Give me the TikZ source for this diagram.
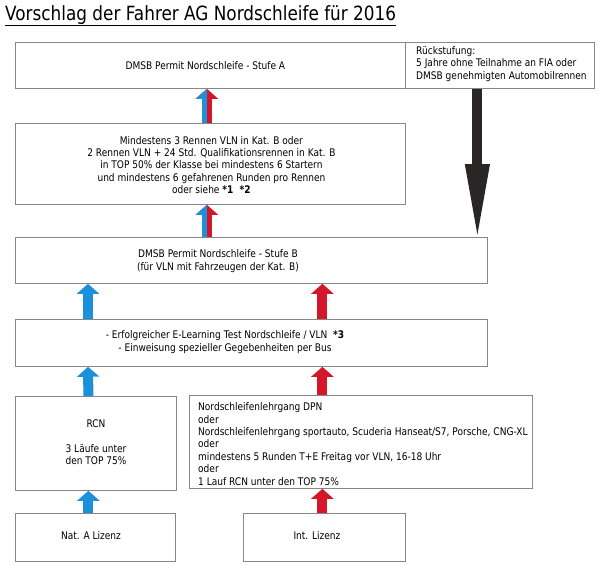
\documentclass[tikz,border=0pt]{standalone}
\usepackage{fontspec}
\setmainfont[FakeStretch=0.86]{DejaVu Sans}
\usetikzlibrary{calc,arrows.meta}
\definecolor{arrblue}{RGB}{28,144,218}
\definecolor{arrred}{RGB}{212,22,42}
\definecolor{arrblack}{RGB}{42,38,38}
\definecolor{boxline}{RGB}{135,135,135}
\begin{document}
\begin{tikzpicture}[x=1pt,y=-1pt,
  box/.style={draw=boxline, line width=0.8pt, inner sep=0pt, anchor=north west},
  txt/.style={font=\fontsize{10.5}{12.4}\selectfont, inner sep=0pt},
  upblue/.style={draw=arrblue, line width=10pt, -{Triangle[width=22pt,length=10pt]}},
  upred/.style={draw=arrred, line width=10pt, -{Triangle[width=22pt,length=10pt]}},
  downblack/.style={draw=arrblack, line width=10pt, -{Triangle[width=22pt,length=78pt]}},
]
\useasboundingbox (0,0) rectangle (600,571);

% title
\node[anchor=base west, inner sep=0pt, font=\fontsize{19.6}{22}\selectfont] (title) at (5,20)
  {\underline{Vorschlag der Fahrer AG Nordschleife für 2016}};

% boxes
\node[box, minimum width=390, minimum height=46] (stA) at (15,42) {};
\node[box, minimum width=189, minimum height=46] (rueck) at (405,42) {};
\node[box, minimum width=390, minimum height=81] (req) at (15,123) {};
\node[box, minimum width=472, minimum height=46] (stB) at (15,237) {};
\node[box, minimum width=472, minimum height=47] (elearn) at (15,319) {};
\node[box, minimum width=161, minimum height=94] (rcn) at (15,396) {};
\node[box, minimum width=343, minimum height=93] (dpn) at (189,395) {};
\node[box, minimum width=160, minimum height=48] (natA) at (15,513) {};
\node[box, minimum width=162, minimum height=48] (intL) at (243,513) {};

% texts
\node[txt] (tA) at ($(stA.center)+(-5,0)$) {DMSB Permit Nordschleife - Stufe A};
\node[txt, anchor=west, align=left] (tR) at (416,64)
  {Rückstufung:\\5 Jahre ohne Teilnahme an FIA oder\\DMSB genehmigten Automobilrennen};
\node[txt, align=center] (tReq) at ($(req.center)+(1,1)$)
  {Mindestens 3 Rennen VLN in Kat. B oder\\
   2 Rennen VLN + 24 Std. Qualifikationsrennen in Kat. B\\
   in TOP 50\% der Klasse bei mindestens 6 Startern\\
   und mindestens 6 gefahrenen Runden pro Rennen\\
   oder siehe \textbf{*1\ \ *2}};
\node[txt, align=center] (tB) at (218,261)
  {DMSB Permit Nordschleife - Stufe B\\(für VLN mit Fahrzeugen der Kat. B)};
\node[txt, align=center] (tE) at (225,342)
  {- Erfolgreicher E-Learning Test Nordschleife / VLN\ \ \textbf{*3}\\
   - Einweisung spezieller Gegebenheiten per Bus};
\node[txt, align=center] (tRCN) at (96,442)
  {RCN\\[12.4pt]3 Läufe unter\\den TOP 75\%};
\node[txt, anchor=west, align=left] (tDPN) at (198,444)
  {Nordschleifenlehrgang DPN\\oder\\
   Nordschleifenlehrgang sportauto, Scuderia Hanseat/S7, Porsche, CNG-XL\\oder\\
   mindestens 5 Runden T+E Freitag vor VLN, 16-18 Uhr\\oder\\
   1 Lauf RCN unter den TOP 75\%};
\node[txt] (tNat) at (91,536) {Nat. A Lizenz};
\node[txt] (tInt) at (317,536) {Int. Lizenz};

% blue path
\draw[upblue] ([xshift=-7pt]natA.north) -- ([xshift=-7.5pt]rcn.south);
\draw[upblue] ([xshift=-7.5pt]rcn.north) -- ($(elearn.south west)+(73,0)$);
\draw[upblue] ($(elearn.north west)+(73,0)$) -- ($(stB.south west)+(73,0)$);

% red path
\draw[upred] ([xshift=-2pt]intL.north) -- ([xshift=-38.5pt]dpn.south);
\draw[upred] ([xshift=-38.5pt]dpn.north) -- ([xshift=71pt]elearn.south);
\draw[upred] ([xshift=71pt]elearn.north) -- ([xshift=71pt]stB.south);

% split arrows
\draw[upred] ([xshift=-44.5pt]stB.north) -- ([xshift=-3.5pt]req.south);
\begin{scope}
  \clip ([xshift=-44.5pt]stB.north) rectangle ([xshift=-74.5pt]req.south);
  \draw[upblue] ([xshift=-44.5pt]stB.north) -- ([xshift=-3.5pt]req.south);
\end{scope}
\draw[upred] ([xshift=-3.5pt]req.north) -- ([xshift=-3.5pt]stA.south);
\begin{scope}
  \clip ([xshift=-3.5pt]req.north) rectangle ([xshift=-33.5pt]stA.south);
  \draw[upblue] ([xshift=-3.5pt]req.north) -- ([xshift=-3.5pt]stA.south);
\end{scope}

% downgrade arrow
\draw[downblack] ([xshift=-22.5pt]rueck.south) -- ([xshift=226pt,yshift=-5pt]stB.north);
\end{tikzpicture}
\end{document}
